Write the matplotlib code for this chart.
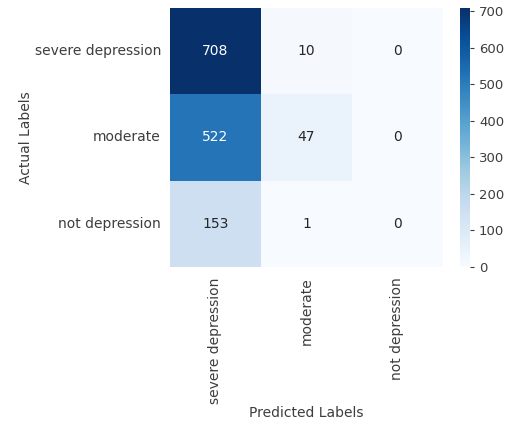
import numpy as np
import matplotlib
matplotlib.use("Agg")
import matplotlib.pyplot as plt
import seaborn as sns

labels = ["severe depression", "moderate", "not depression"]
row_severe = [708, 10, 0]
row_moderate = [522, 47, 0]
row_not = [153, 1, 0]

cm = np.array([row_severe, row_moderate, row_not])

grey = "#3d3d3d"
plt.rcParams["text.color"] = grey
plt.rcParams["axes.labelcolor"] = grey
plt.rcParams["xtick.color"] = grey
plt.rcParams["ytick.color"] = grey
plt.rcParams["font.size"] = 10

fig = plt.figure(figsize=(5.12, 4.23), dpi=100)
ax = fig.add_axes([0.332, 0.369, 0.533, 0.612])
cax = fig.add_axes([0.898, 0.369, 0.020, 0.612])

sns.heatmap(cm, annot=True, fmt="d", cmap="Blues", ax=ax, cbar_ax=cax,
            xticklabels=labels, yticklabels=labels,
            annot_kws={"size": 10})
ax.tick_params(axis="x", length=0, pad=7.5)
ax.tick_params(axis="y", length=0, pad=6.5)
ax.set_xticklabels(labels, rotation=90)
ax.set_yticklabels(labels, rotation=0)
ax.set_xlabel("Predicted Labels", labelpad=2)
ax.set_ylabel("Actual Labels", labelpad=1)

cax.tick_params(length=3, width=0.8, labelsize=9.5)
cax.set_yticks(range(0, 701, 100))
for s in cax.spines.values():
    s.set_visible(False)

fig.savefig("out.png", dpi=100)
